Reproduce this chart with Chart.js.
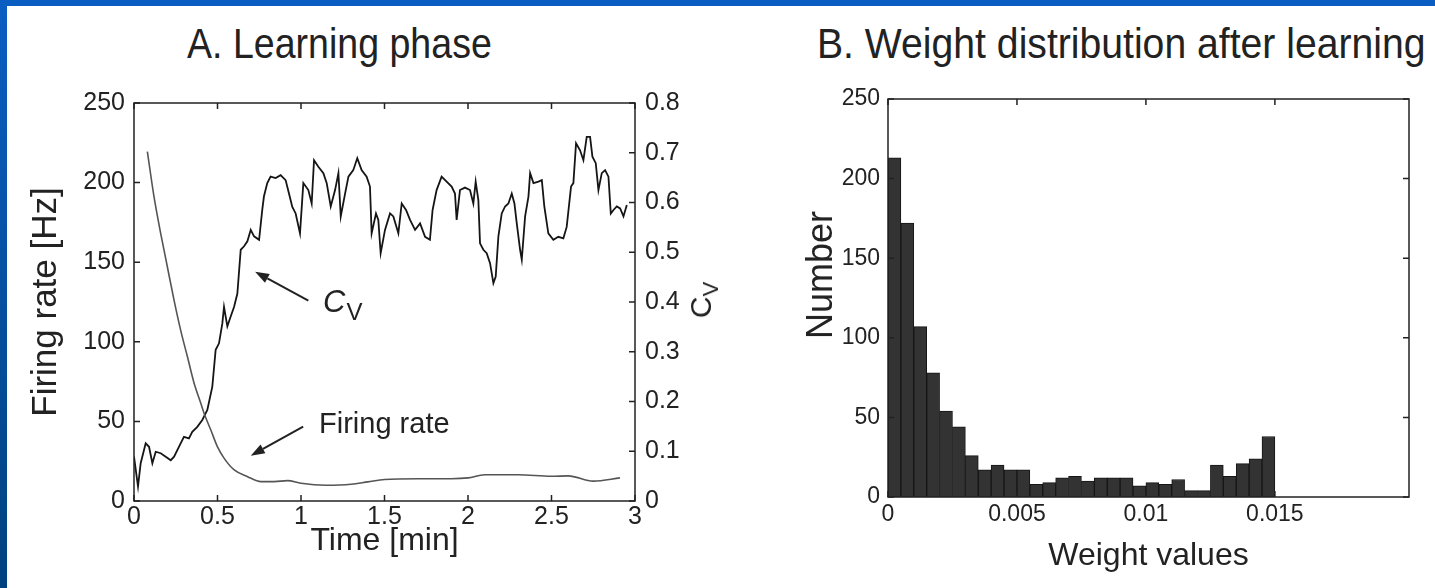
<!DOCTYPE html>
<html>
<head>
<meta charset="utf-8">
<script src="https://cdn.jsdelivr.net/npm/chart.js@4.4.0/dist/chart.umd.min.js"></script>
<style>
  html, body { margin: 0; padding: 0; }
  body {
    width: 1435px; height: 588px; position: relative; overflow: hidden;
    background: #fff; color: #222;
    font-family: "Liberation Sans", Arial, sans-serif;
  }
  #bandTop { position: absolute; left: 0; top: 0; width: 1435px; height: 6px; background: #0a5ec2; }
  #bandLeft { position: absolute; left: 0; top: 0; width: 7px; height: 588px; background: linear-gradient(#0a5ec2, #00427f); }
  .title { position: absolute; top: 23px; font-size: 42px; line-height: 42px; white-space: nowrap; transform-origin: 0 0; }
  .box { position: absolute; top: 0; height: 588px; }
  .ylab { position: absolute; transform: translate(-50%, -50%) rotate(-90deg); white-space: nowrap; line-height: 1; }
</style>
</head>
<body>
<div id="bandTop"></div>
<div id="bandLeft"></div>

<div class="title" style="left:187px;transform:scaleX(0.894)">A. Learning phase</div>
<div class="title" style="left:817px;transform:scaleX(0.932)">B. Weight distribution after learning</div>

<div class="box" style="left:0;width:760px"><canvas id="chartA"></canvas></div>
<div class="box" style="left:760px;width:675px"><canvas id="chartB"></canvas></div>

<div class="ylab" style="left:704px;top:300px;font-size:30px">C<sub style="font-size:22px">V</sub></div>
<div class="ylab" style="left:820px;top:275px;font-size:36px">Number</div>

<script>
// Panel A: learning phase (time in minutes)
const frTime = [0.08, 0.12, 0.16, 0.20, 0.24, 0.28, 0.32, 0.36, 0.40, 0.42,
  0.46, 0.50, 0.54, 0.60, 0.68, 0.76, 0.84, 0.92, 1.00, 1.15,
  1.30, 1.40, 1.50, 1.70, 1.90, 2.00, 2.10, 2.30, 2.50, 2.60, 2.75, 2.91];
const firingRate = [219.5, 191, 168, 147, 126, 107, 90.6, 74, 61.4, 55,
  44.6, 34, 26.8, 19.5, 15.3, 12.2, 12.2, 12.8, 11.1, 9.9,
  10.5, 12, 13.5, 14, 14, 14.5, 16.5, 16.5, 15.5, 15.8, 12.5, 14.5];

const cvTime = [0, 0.024, 0.040, 0.070, 0.090, 0.110, 0.130, 0.160, 0.190, 0.220,
  0.240, 0.269, 0.299, 0.329, 0.349, 0.379, 0.409, 0.439, 0.469, 0.489,
  0.509, 0.529, 0.539, 0.559, 0.579, 0.599, 0.619, 0.639, 0.659, 0.679,
  0.699, 0.719, 0.749, 0.768, 0.778, 0.798, 0.818, 0.848, 0.878, 0.908,
  0.928, 0.948, 0.968, 0.994, 1.014, 1.044, 1.064, 1.078, 1.104, 1.134,
  1.154, 1.178, 1.204, 1.224, 1.238, 1.264, 1.284, 1.313, 1.337, 1.363,
  1.393, 1.413, 1.423, 1.449, 1.463, 1.477, 1.503, 1.533, 1.553, 1.583,
  1.603, 1.629, 1.653, 1.683, 1.713, 1.743, 1.772, 1.788, 1.812, 1.842,
  1.872, 1.902, 1.922, 1.932, 1.952, 1.982, 2.012, 2.032, 2.046, 2.062,
  2.072, 2.092, 2.112, 2.132, 2.152, 2.166, 2.182, 2.202, 2.222, 2.242,
  2.262, 2.278, 2.292, 2.312, 2.322, 2.342, 2.362, 2.372, 2.392, 2.422,
  2.442, 2.457, 2.481, 2.511, 2.541, 2.571, 2.591, 2.617, 2.631, 2.647,
  2.671, 2.691, 2.711, 2.731, 2.745, 2.765, 2.781, 2.801, 2.821, 2.841,
  2.855, 2.871, 2.891, 2.911, 2.931, 2.951];
const cvValue = [0.089, 0.029, 0.076, 0.116, 0.109, 0.076, 0.099, 0.096, 0.089, 0.082,
  0.089, 0.109, 0.129, 0.126, 0.139, 0.149, 0.163, 0.183, 0.230, 0.304,
  0.317, 0.357, 0.390, 0.351, 0.371, 0.390, 0.417, 0.505, 0.512, 0.522,
  0.545, 0.532, 0.525, 0.585, 0.612, 0.639, 0.652, 0.649, 0.655, 0.645,
  0.618, 0.591, 0.578, 0.538, 0.639, 0.625, 0.598, 0.685, 0.672, 0.659,
  0.639, 0.592, 0.625, 0.659, 0.572, 0.618, 0.652, 0.665, 0.689, 0.665,
  0.652, 0.632, 0.538, 0.578, 0.565, 0.498, 0.545, 0.578, 0.572, 0.538,
  0.598, 0.585, 0.565, 0.545, 0.558, 0.531, 0.525, 0.585, 0.625, 0.652,
  0.642, 0.632, 0.618, 0.565, 0.625, 0.630, 0.625, 0.598, 0.642, 0.605,
  0.518, 0.505, 0.498, 0.478, 0.438, 0.451, 0.532, 0.578, 0.592, 0.598,
  0.618, 0.598, 0.558, 0.505, 0.485, 0.572, 0.612, 0.659, 0.639, 0.642,
  0.645, 0.592, 0.538, 0.525, 0.531, 0.528, 0.551, 0.632, 0.639, 0.719,
  0.705, 0.685, 0.732, 0.732, 0.692, 0.679, 0.625, 0.659, 0.665, 0.652,
  0.578, 0.585, 0.592, 0.588, 0.572, 0.595];

// Panel B: histogram of weights
const binCenters = [0.00025, 0.00075, 0.00125, 0.00175, 0.00225, 0.00275, 0.00325, 0.00375, 0.00425, 0.00475,
  0.00525, 0.00575, 0.00625, 0.00675, 0.00725, 0.00775, 0.00825, 0.00875, 0.00925, 0.00975,
  0.01025, 0.01075, 0.01125, 0.01175, 0.01225, 0.01275, 0.01325, 0.01375, 0.01425, 0.01475];
const binCounts = [213, 172, 107, 78, 54, 44, 26, 17, 20, 17,
  17, 8, 9, 12, 13, 10, 12, 12, 12, 7,
  9, 8, 11, 4, 4, 20, 13, 21, 24, 38];
const weightTicks = [0, 0.005, 0.01, 0.015];

Chart.defaults.font.family = '"Liberation Sans", Arial, sans-serif';
Chart.defaults.color = '#222';
Chart.defaults.animation = false;

// box around the plot with inward tick marks (matlab style)
const frameTicks = {
  id: 'frameTicks',
  afterDatasetsDraw(chart, args, opts) {
    const { ctx, chartArea: a } = chart;
    const len = 6;
    ctx.save();
    ctx.strokeStyle = '#222';
    ctx.lineWidth = 1.5;
    ctx.strokeRect(a.left, a.top, a.right - a.left, a.bottom - a.top);
    ctx.beginPath();
    opts.sides.forEach(([id, side]) => {
      const s = chart.scales[id];
      s.ticks.forEach((t) => {
        const p = s.getPixelForValue(t.value);
        if (side === 'bottom') { ctx.moveTo(p, a.bottom); ctx.lineTo(p, a.bottom - len); }
        if (side === 'top') { ctx.moveTo(p, a.top); ctx.lineTo(p, a.top + len); }
        if (side === 'left') { ctx.moveTo(a.left, p); ctx.lineTo(a.left + len, p); }
        if (side === 'right') { ctx.moveTo(a.right, p); ctx.lineTo(a.right - len, p); }
      });
    });
    ctx.stroke();
    ctx.restore();
  }
};

// arrows + labels inside panel A, positioned in data units
const notes = {
  id: 'notes',
  afterDatasetsDraw(chart, args, opts) {
    if (!opts.arrows) return;
    const { ctx, scales: { x, y } } = chart;
    ctx.save();
    ctx.strokeStyle = '#222';
    ctx.fillStyle = '#222';
    ctx.lineWidth = 2;
    opts.arrows.forEach(([fx, fy, tx, ty]) => {
      const x1 = x.getPixelForValue(fx), y1 = y.getPixelForValue(fy);
      const x2 = x.getPixelForValue(tx), y2 = y.getPixelForValue(ty);
      const ang = Math.atan2(y2 - y1, x2 - x1);
      const hl = 14, hw = 5;
      const bx = x2 - hl * Math.cos(ang), by = y2 - hl * Math.sin(ang);
      ctx.beginPath();
      ctx.moveTo(x1, y1);
      ctx.lineTo(bx, by);
      ctx.stroke();
      ctx.beginPath();
      ctx.moveTo(x2, y2);
      ctx.lineTo(bx + hw * Math.sin(ang), by - hw * Math.cos(ang));
      ctx.lineTo(bx - hw * Math.sin(ang), by + hw * Math.cos(ang));
      ctx.closePath();
      ctx.fill();
    });
    ctx.textBaseline = 'alphabetic';
    ctx.textAlign = 'left';
    // C_V label
    let px = x.getPixelForValue(1.132), py = y.getPixelForValue(118.7);
    ctx.font = 'italic 31px "Liberation Sans", Arial, sans-serif';
    ctx.fillText('C', px, py);
    const cw = ctx.measureText('C').width;
    ctx.font = '24px "Liberation Sans", Arial, sans-serif';
    ctx.fillText('V', px + cw + 1, py + 8);
    // firing rate label
    px = x.getPixelForValue(1.108); py = y.getPixelForValue(42.7);
    ctx.font = '29px "Liberation Sans", Arial, sans-serif';
    ctx.fillText('Firing rate', px, py);
    ctx.restore();
  }
};

new Chart(document.getElementById('chartA'), {
  type: 'line',
  data: {
    datasets: [
      {
        label: 'Firing rate',
        data: frTime.map((t, i) => ({ x: t, y: firingRate[i] })),
        yAxisID: 'y',
        borderColor: '#555',
        borderWidth: 1.6,
        pointRadius: 0,
        tension: 0.35,
        cubicInterpolationMode: 'monotone'
      },
      {
        label: 'CV',
        data: cvTime.map((t, i) => ({ x: t, y: cvValue[i] })),
        yAxisID: 'y1',
        borderColor: '#151515',
        borderWidth: 1.8,
        pointRadius: 0,
        tension: 0
      }
    ]
  },
  options: {
    responsive: true,
    maintainAspectRatio: false,
    layout: { padding: { top: 103, left: 0, right: 0, bottom: 0 } },
    plugins: {
      legend: { display: false },
      tooltip: { enabled: false },
      frameTicks: { sides: [['x', 'bottom'], ['x', 'top'], ['y', 'left'], ['y1', 'right']] },
      notes: { arrows: [[1.044, 125.8, 0.725, 144], [1.013, 46.7, 0.699, 28.5]] }
    },
    scales: {
      x: {
        type: 'linear', min: 0, max: 3,
        grid: { display: false, drawTicks: false }, border: { display: false },
        ticks: { stepSize: 0.5, padding: 1, maxRotation: 0, autoSkip: false, font: { size: 25 }, callback: (v) => String(v) },
        title: { display: true, text: 'Time [min]', font: { size: 32 }, padding: { top: 0, bottom: 28 } },
        afterFit(s) { s.height = 87; s.paddingLeft = 0; s.paddingRight = 0; }
      },
      y: {
        position: 'left', min: 0, max: 250,
        grid: { display: false, drawTicks: false }, border: { display: false },
        ticks: { stepSize: 50, padding: 9, font: { size: 25 } },
        title: { display: true, text: 'Firing rate [Hz]', font: { size: 35 }, padding: { top: 25, bottom: 0 } },
        afterFit(s) { s.width = 134; s.paddingTop = 0; s.paddingBottom = 0; }
      },
      y1: {
        position: 'right', min: 0, max: 0.8,
        grid: { display: false, drawTicks: false }, border: { display: false },
        ticks: { stepSize: 0.1, padding: 10, font: { size: 25 }, callback: (v) => String(+v.toFixed(1)) },
        afterFit(s) { s.width = 125; s.paddingTop = 0; s.paddingBottom = 0; }
      }
    }
  },
  plugins: [frameTicks, notes]
});

new Chart(document.getElementById('chartB'), {
  type: 'bar',
  data: {
    datasets: [{
      label: 'Number',
      data: binCenters.map((c, i) => ({ x: c, y: binCounts[i] })),
      backgroundColor: '#333',
      borderColor: '#161616',
      borderWidth: 1,
      barPercentage: 1,
      categoryPercentage: 1
    }]
  },
  options: {
    responsive: true,
    maintainAspectRatio: false,
    layout: { padding: { top: 99, left: 0, right: 26, bottom: 0 } },
    plugins: {
      legend: { display: false },
      tooltip: { enabled: false },
      frameTicks: { sides: [['x', 'bottom'], ['x', 'top'], ['y', 'left'], ['y', 'right']] }
    },
    scales: {
      x: {
        type: 'linear', min: 0, max: 0.0202, offset: false,
        grid: { display: false, drawTicks: false }, border: { display: false },
        afterBuildTicks(s) { s.ticks = weightTicks.map((v) => ({ value: v })); },
        ticks: { padding: 4, maxRotation: 0, autoSkip: false, font: { size: 23 }, callback: (v) => String(v) },
        title: { display: true, text: 'Weight values', font: { size: 32 }, padding: { top: 0, bottom: 13 } },
        afterFit(s) { s.height = 91; s.paddingLeft = 0; s.paddingRight = 0; }
      },
      y: {
        min: 0, max: 250,
        grid: { display: false, drawTicks: false }, border: { display: false },
        ticks: { stepSize: 50, padding: 8, font: { size: 23 } },
        afterFit(s) { s.width = 128; s.paddingTop = 0; s.paddingBottom = 0; }
      }
    }
  },
  plugins: [frameTicks]
});
</script>
</body>
</html>
